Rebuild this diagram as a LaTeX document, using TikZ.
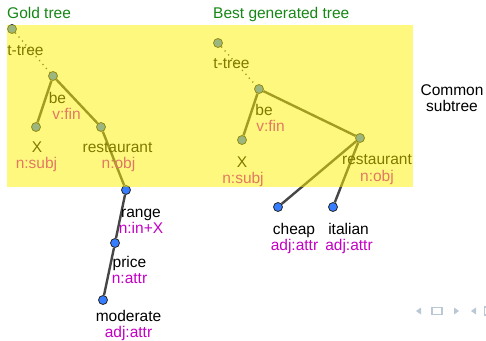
\documentclass[tikz,border=0pt]{standalone}
\usepackage{fontspec}
\setmainfont{Liberation Sans}
\definecolor{ttl}{RGB}{20,135,20}
\definecolor{tagc}{RGB}{195,0,195}
\definecolor{nodeblue}{RGB}{55,125,255}
\definecolor{edgec}{RGB}{70,70,70}
\definecolor{navc}{RGB}{185,200,212}
\begin{document}
\begin{tikzpicture}[x=1pt,y=-1pt,
  vtx/.style={circle,fill=nodeblue,draw=black!85,line width=0.8pt,minimum size=9pt,inner sep=0pt},
  edge/.style={draw=edgec,line width=2.4pt},
  dotedge/.style={draw=edgec,line width=1.4pt,dash pattern=on 1.2pt off 4pt},
  wrd/.style={anchor=base,inner sep=0pt,font=\fontsize{15.5}{18}\selectfont,text=black},
  tag/.style={anchor=base,inner sep=0pt,font=\fontsize{15.5}{18}\selectfont,text=tagc},
  title/.style={anchor=base west,inner sep=0pt,font=\fontsize{15.5}{18}\selectfont,text=ttl},
  nav/.style={fill=navc,draw=none}]
\useasboundingbox (0,0) rectangle (486,340);
% titles
\node[title] (t1) at (7,18) {Gold tree};
\node[title] (t2) at (213,18) {Best generated tree};
\node[wrd] (cs1) at (452,95) {Common};
\node[wrd] (cs2) at (452,111) {subtree};
% gold tree nodes
\node[vtx] (g0) at (12,29) {};
\node[vtx] (g1) at (53,76) {};
\node[vtx] (g2) at (36,127) {};
\node[vtx] (g3) at (101,127) {};
\node[vtx] (g4) at (126,190) {};
\node[vtx] (g5) at (115,243) {};
\node[vtx] (g6) at (103,300) {};
\draw[dotedge] (g0) -- (g1);
\draw[edge] (g1) -- (g2);
\draw[edge] (g1) -- (g3);
\draw[edge] (g3) -- (g4);
\draw[edge] (g4) -- (g5);
\draw[edge] (g5) -- (g6);
% gold labels
\node[wrd] (l0) at (25.5,55) {t-tree};
\node[wrd] (l1) at (57.5,103) {be};
\node[tag] (l1t) at (66.5,119) {v:fin};
\node[wrd] (l2) at (37,152) {X};
\node[tag] (l2t) at (36.5,168) {n:subj};
\node[wrd] (l3) at (117.5,152) {restaurant};
\node[tag] (l3t) at (118.5,168) {n:obj};
\node[wrd] (l4) at (141,217) {range};
\node[tag] (l4t) at (141,233) {n:in+X};
\node[wrd] (l5) at (129.5,267) {price};
\node[tag] (l5t) at (129.5,283) {n:attr};
\node[wrd] (l6) at (128.5,321) {moderate};
\node[tag] (l6t) at (128.5,337) {adj:attr};
% best tree nodes
\node[vtx] (b0) at (218,43) {};
\node[vtx] (b1) at (259,89) {};
\node[vtx] (b2) at (242,140) {};
\node[vtx] (b3) at (360,138) {};
\node[vtx] (b4) at (278,207) {};
\node[vtx] (b5) at (333,207) {};
\draw[dotedge] (b0) -- (b1);
\draw[edge] (b1) -- (b2);
\draw[edge] (b1) -- (b3);
\draw[edge] (b3) -- (b4);
\draw[edge] (b3) -- (b5);
% best labels
\node[wrd] (m0) at (231.5,68) {t-tree};
\node[wrd] (m1) at (264,115) {be};
\node[tag] (m1t) at (270.5,131) {v:fin};
\node[wrd] (m2) at (242,167) {X};
\node[tag] (m2t) at (243,183) {n:subj};
\node[wrd] (m3) at (377,164) {restaurant};
\node[tag] (m3t) at (377,181) {n:obj};
\node[wrd] (m4) at (294,234) {cheap};
\node[tag] (m4t) at (294.5,250) {adj:attr};
\node[wrd] (m5) at (348.5,234) {italian};
\node[tag] (m5t) at (349,250) {adj:attr};
% common subtree overlay
\fill[yellow,opacity=0.5] (7,25) rectangle (413,187);
% navigation symbols
\fill[nav] (416,311) -- (421,307.5) -- (421,314.5) -- cycle;
\draw[navc,line width=1.2pt] (432,307.5) rectangle (442,314.5);
\fill[nav] (459,311) -- (454,307.5) -- (454,314.5) -- cycle;
\fill[nav] (471,311) -- (476,307.5) -- (476,314.5) -- cycle;
\draw[navc,line width=1.2pt] (486,307) -- (484.5,307) -- (484.5,315) -- (486,315);
\end{tikzpicture}
\end{document}
